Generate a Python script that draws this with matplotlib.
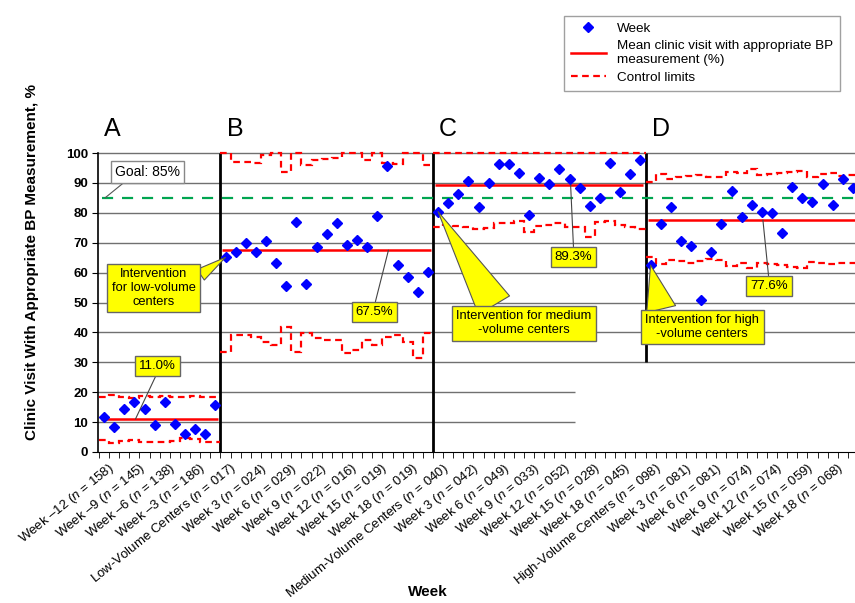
import numpy as np
import matplotlib.pyplot as plt
from matplotlib.lines import Line2D
from matplotlib.transforms import ScaledTranslation, blended_transform_factory

plt.rcParams['font.family'] = ['Liberation Sans', 'DejaVu Sans']
plt.rcParams['mathtext.fontset'] = 'custom'
plt.rcParams['mathtext.it'] = 'Liberation Sans:italic'
plt.rcParams['mathtext.rm'] = 'Liberation Sans'

# weekly % of clinic visits with appropriate BP measurement, per panel
pts_a = [11.7, 8.4, 14.5, 16.7, 14.5, 8.9, 16.7, 9.5, 5.9, 7.8, 6.1, 15.6]
pts_b = [65.1, 67.0, 69.8, 67.0, 70.6, 63.3, 55.5, 76.8, 56.2, 68.7, 72.8,
         76.7, 69.2, 70.9, 68.7, 79.0, 95.8, 62.5, 58.4, 53.6, 60.3]
pts_c = [80.4, 83.2, 86.3, 90.7, 82.0, 90.1, 96.2, 96.2, 93.2, 79.3, 91.5,
         89.5, 94.6, 91.2, 88.4, 82.4, 84.8, 96.8, 87.1, 92.9, 97.7]
pts_d = [62.5, 76.3, 82.0, 70.7, 68.9, 50.7, 67.0, 76.3, 87.3, 78.5, 82.5,
         80.4, 80.0, 73.3, 88.7, 85.1, 83.6, 89.5, 82.7, 91.3, 88.4]

# control limits
ucl_a = [18.5, 19.1, 18.3, 18.0, 18.7, 18.5, 18.7, 18.3, 18.5, 18.7, 18.5, 18.5]
lcl_a = [4.0, 2.9, 3.7, 4.0, 3.5, 3.5, 3.2, 3.8, 4.6, 4.3, 3.5, 3.5]
ucl_b = [100, 96.9, 96.9, 96.6, 99.3, 100, 93.7, 100, 96.0, 97.7, 97.9,
         98.4, 100, 100, 97.7, 99.9, 96.6, 96.2, 100, 100, 96.0]
lcl_b = [33.5, 39.1, 39.1, 38.6, 36.9, 35.8, 41.7, 33.5, 39.9, 38.0, 37.5,
         37.5, 33.0, 34.1, 37.5, 35.8, 38.6, 39.1, 36.9, 31.3, 39.9]
ucl_c = [100] * 21
lcl_c = [75.1, 75.9, 75.5, 75.1, 74.5, 74.8, 76.5, 76.7, 77.4, 73.7, 75.5,
         75.9, 76.5, 75.3, 75.1, 72.0, 77.0, 77.4, 75.9, 75.1, 74.5]
ucl_d = [90.4, 93.0, 91.2, 91.9, 92.3, 92.6, 92.1, 91.9, 93.7, 93.2, 94.5,
         92.6, 93.0, 93.2, 93.7, 94.1, 92.1, 92.9, 93.2, 92.3, 92.6]
lcl_d = [65.3, 62.9, 64.2, 64.0, 63.3, 63.8, 64.4, 64.2, 62.2, 63.1, 61.4,
         63.3, 62.9, 62.4, 62.0, 61.5, 63.6, 63.3, 62.9, 63.3, 63.3]

means = [11.0, 67.5, 89.3, 77.6]
goal = 85

tick_labels = [
    'Week \u201312 ($n$ = 158)', 'Week \u20139 ($n$ = 145)', 'Week \u20136 ($n$ = 138)',
    'Week \u20133 ($n$ = 186)', 'Low-Volume Centers ($n$ = 017)',
    'Week 3 ($n$ = 024)', 'Week 6 ($n$ = 029)', 'Week 9 ($n$ = 022)',
    'Week 12 ($n$ = 016)', 'Week 15 ($n$ = 019)', 'Week 18 ($n$ = 019)',
    'Medium-Volume Centers ($n$ = 040)',
    'Week 3 ($n$ = 042)', 'Week 6 ($n$ = 049)', 'Week 9 ($n$ = 033)',
    'Week 12 ($n$ = 052)', 'Week 15 ($n$ = 028)', 'Week 18 ($n$ = 045)',
    'High-Volume Centers ($n$ = 098)',
    'Week 3 ($n$ = 081)', 'Week 6 ($n$ = 081)', 'Week 9 ($n$ = 074)',
    'Week 12 ($n$ = 074)', 'Week 15 ($n$ = 059)', 'Week 18 ($n$ = 068)',
]
panel_names = ['A', 'B', 'C', 'D']

panels = [(pts_a, ucl_a, lcl_a), (pts_b, ucl_b, lcl_b),
          (pts_c, ucl_c, lcl_c), (pts_d, ucl_d, lcl_d)]
starts = np.cumsum([0] + [len(p[0]) for p in panels])
n_total = starts[-1]

fig = plt.figure(figsize=(8.55, 6.03), dpi=100)
ax = fig.add_axes([98 / 855, 1 - 452 / 603, 1 - 98 / 855, 299 / 603])
xmin, xmax = -0.6, 74.2
ax.set_xlim(xmin, xmax)
ax.set_ylim(0, 100)

gridc = '#707070'
for v in range(10, 101, 10):
    right = 46.5 if v < 30 else xmax
    ax.hlines(v, xmin, right, color=gridc, lw=1, zorder=0, clip_on=False)

# panel separators
ax.vlines(starts[1] - 0.5, 0, 100, color='black', lw=2, zorder=1)
ax.vlines(starts[2] - 0.5, 0, 100, color='black', lw=2, zorder=1)
ax.vlines(starts[3] - 0.5, 30, 100, color='black', lw=2, zorder=1)

ax.hlines(goal, xmin + 0.4, xmax, color='#00A550', lw=1.6, ls=(0, (5, 4)), zorder=2)

for i, (pts, ucl, lcl) in enumerate(panels):
    x = np.arange(starts[i], starts[i + 1])
    edges = np.arange(starts[i], starts[i + 1] + 1) - 0.5
    ax.stairs(ucl, edges, baseline=None, color='red', lw=1.6, ls=(0, (3, 2)),
              zorder=3, clip_on=False)
    ax.stairs(lcl, edges, baseline=None, color='red', lw=1.6, ls=(0, (3, 2)), zorder=3)
    ax.hlines(means[i], x[0] - 0.3, x[-1] + 0.3, color='red', lw=1.8, zorder=3)
    ax.plot(x, pts, ls='', marker='D', ms=5.3, color='#0000FF', zorder=4)
    sep = starts[i] - 0.5 if i > 0 else xmin
    tr = blended_transform_factory(ax.transData, ax.transAxes)
    ax.text(sep + 0.6, 1.08, panel_names[i], transform=tr, fontsize=18,
            ha='left', va='center')

ax.spines['top'].set_visible(False)
ax.spines['right'].set_visible(False)
ax.spines['left'].set_linewidth(1.2)

ax.set_yticks(range(0, 101, 10))
ax.set_yticklabels([str(v) for v in range(0, 101, 10)], fontweight='bold', fontsize=9.5)
ax.tick_params(axis='y', direction='out', length=4, pad=3)

ax.set_xticks(np.arange(0, n_total - 2, 3))
ax.set_xticklabels(tick_labels, rotation=39, ha='right', rotation_mode='anchor',
                   fontsize=9.5)
ax.set_xticks(np.arange(-0.5, xmax, 1), minor=True)
ax.tick_params(axis='x', which='major', length=0, pad=6)
ax.tick_params(axis='x', which='minor', direction='out', length=4)
shift = ScaledTranslation(4 / 100, 0, fig.dpi_scale_trans)
for lab in ax.get_xticklabels():
    lab.set_transform(lab.get_transform() + shift)

fig.text(0.037, 0.566, 'Clinic Visit With Appropriate BP Measurement, %',
         rotation=90, fontweight='bold', fontsize=11, ha='center', va='center')
fig.text(0.5, 0.018, 'Week', fontweight='bold', fontsize=11, ha='center', va='center')

# annotations
ax.annotate('Goal: 85%', xy=(0.1, goal), xytext=(4.3, 93.6), fontsize=10,
            ha='center', va='center',
            bbox=dict(boxstyle='square,pad=0.3', fc='white', ec='#888888', lw=1),
            arrowprops=dict(arrowstyle='-', color='#555555', lw=0.8,
                            relpos=(0.2, 0), shrinkA=0, shrinkB=0))

yellow = dict(boxstyle='square,pad=0.3', fc='#FFFF00', ec='#666666', lw=1)
value_boxes = [((5.3, 28.8), (3.1, means[0]), (0.5, 0)),
               ((26.7, 46.8), (28.1, means[1]), (0.5, 1)),
               ((46.4, 65.2), (46.1, means[2]), (0.5, 1)),
               ((65.7, 55.5), (65.1, means[3]), (0.5, 1))]
for m, (txy, xy, rp) in zip(means, value_boxes):
    ax.annotate(f'{m:.1f}%', xy=xy, xytext=txy, fontsize=9.5, ha='center', va='center',
                bbox=yellow, zorder=6,
                arrowprops=dict(arrowstyle='-', color='#444444', lw=0.8,
                                relpos=rp, shrinkA=0, shrinkB=0))

callouts = [('Intervention\nfor low-volume\ncenters', (4.9, 54.8), 1, (1.0, 0.75), 1.0),
            ('Intervention for medium\n-volume centers', (41.5, 43.1), 2, (0.3, 1.0), 2.8),
            ('Intervention for high\n-volume centers', (59.1, 41.8), 3, (0.15, 1.0), 2.3)]
for text, txy, pi, rp, tw in callouts:
    xy = (starts[pi], panels[pi][0][0])
    ax.annotate(text, xy=xy, xytext=txy, fontsize=9.3, ha='center', va='center',
                multialignment='center', zorder=6,
                bbox=dict(boxstyle='square,pad=0.35', fc='#FFFF00', ec='#666666', lw=1),
                arrowprops=dict(arrowstyle=f'wedge,tail_width={tw},shrink_factor=0.5',
                                fc='#FFFF00', ec='#555555', lw=0.8, relpos=rp,
                                shrinkA=0, shrinkB=0))

handles = [Line2D([], [], ls='', marker='D', ms=5, color='#0000FF'),
           Line2D([], [], color='red', lw=1.8),
           Line2D([], [], color='red', lw=1.6, ls=(0, (3, 2)))]
fig.legend(handles, ['Week', 'Mean clinic visit with appropriate BP\nmeasurement (%)',
                     'Control limits'],
           loc='upper left', bbox_to_anchor=(0.652, 0.985), fontsize=9.7,
           frameon=True, fancybox=False, edgecolor='#888888', handlelength=2.6,
           borderpad=0.5, labelspacing=0.4)

fig.savefig('out.png', dpi=100)
